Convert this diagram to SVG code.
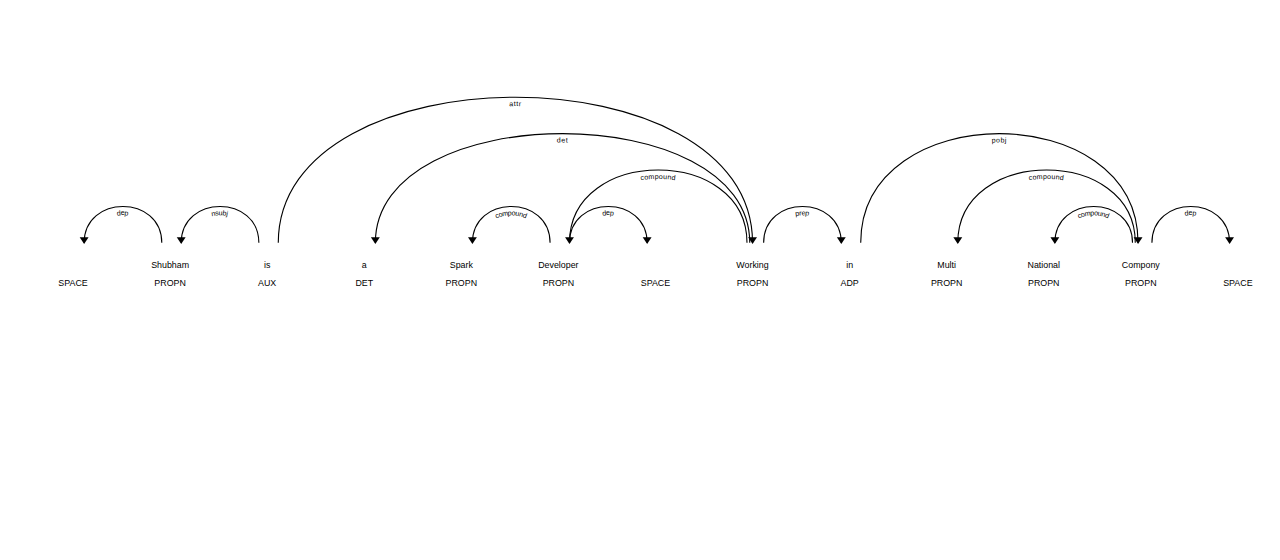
<svg xmlns="http://www.w3.org/2000/svg" xmlns:xlink="http://www.w3.org/1999/xlink" width="1280" height="560" viewBox="0 0 1280 560">
<style>
.d{color:#000;font-family:"Liberation Sans",Arial,sans-serif;font-size:16px}
.tok{fill:currentColor;text-anchor:middle}
.arc{fill:none;stroke:currentColor;stroke-width:2px}
.head{fill:currentColor}
.lbl{font-size:0.8em;letter-spacing:1px}
.lbl textPath{fill:currentColor;text-anchor:middle}
</style>
<rect width="1280" height="560" fill="#fff"/>
<g class="d" transform="translate(45.3,47.6) scale(0.5547)">
<g id="nodes">
<g id="w0"><text class="tok" y="397"><tspan x="50" dy="2em">SPACE</tspan></text></g>
<g id="w1"><text class="tok" y="397"><tspan x="225">Shubham</tspan><tspan x="225" dy="2em">PROPN</tspan></text></g>
<g id="w2"><text class="tok" y="397"><tspan x="400">is</tspan><tspan x="400" dy="2em">AUX</tspan></text></g>
<g id="w3"><text class="tok" y="397"><tspan x="575">a</tspan><tspan x="575" dy="2em">DET</tspan></text></g>
<g id="w4"><text class="tok" y="397"><tspan x="750">Spark</tspan><tspan x="750" dy="2em">PROPN</tspan></text></g>
<g id="w5"><text class="tok" y="397"><tspan x="925">Developer</tspan><tspan x="925" dy="2em">PROPN</tspan></text></g>
<g id="w6"><text class="tok" y="397"><tspan x="1100" dy="2em">SPACE</tspan></text></g>
<g id="w7"><text class="tok" y="397"><tspan x="1275">Working</tspan><tspan x="1275" dy="2em">PROPN</tspan></text></g>
<g id="w8"><text class="tok" y="397"><tspan x="1450">in</tspan><tspan x="1450" dy="2em">ADP</tspan></text></g>
<g id="w9"><text class="tok" y="397"><tspan x="1625">Multi</tspan><tspan x="1625" dy="2em">PROPN</tspan></text></g>
<g id="w10"><text class="tok" y="397"><tspan x="1800">National</tspan><tspan x="1800" dy="2em">PROPN</tspan></text></g>
<g id="w11"><text class="tok" y="397"><tspan x="1975">Compony</tspan><tspan x="1975" dy="2em">PROPN</tspan></text></g>
<g id="w12"><text class="tok" y="397"><tspan x="2150" dy="2em">SPACE</tspan></text></g>
</g>
<g id="connectors">
<g><path class="arc" id="a1" d="M70,352 C70,264.5 210,264.5 210,352"/><text class="lbl" dy="1.25em"><textPath xlink:href="#a1" startOffset="50%">dep</textPath></text><path class="head" d="M70,354 L62,342 78,342"/></g>
<g><path class="arc" id="a2" d="M245,352 C245,264.5 385,264.5 385,352"/><text class="lbl" dy="1.25em"><textPath xlink:href="#a2" startOffset="50%">nsubj</textPath></text><path class="head" d="M245,354 L237,342 253,342"/></g>
<g><path class="arc" id="a3" d="M420,352 C420,2 1275,2 1275,352"/><text class="lbl" dy="1.25em"><textPath xlink:href="#a3" startOffset="50%">attr</textPath></text><path class="head" d="M1275,354 L1267,342 1283,342"/></g>
<g><path class="arc" id="a4" d="M595,352 C595,89.5 1270,89.5 1270,352"/><text class="lbl" dy="1.25em"><textPath xlink:href="#a4" startOffset="50%">det</textPath></text><path class="head" d="M595,354 L587,342 603,342"/></g>
<g><path class="arc" id="a5" d="M770,352 C770,264.5 910,264.5 910,352"/><text class="lbl" dy="1.25em"><textPath xlink:href="#a5" startOffset="50%">compound</textPath></text><path class="head" d="M770,354 L762,342 778,342"/></g>
<g><path class="arc" id="a6" d="M945,352 C945,177 1265,177 1265,352"/><text class="lbl" dy="1.25em"><textPath xlink:href="#a6" startOffset="50%">compound</textPath></text><path class="head" d="M945,354 L937,342 953,342"/></g>
<g><path class="arc" id="a7" d="M945,352 C945,264.5 1085,264.5 1085,352"/><text class="lbl" dy="1.25em"><textPath xlink:href="#a7" startOffset="50%">dep</textPath></text><path class="head" d="M1085,354 L1077,342 1093,342"/></g>
<g><path class="arc" id="a8" d="M1295,352 C1295,264.5 1435,264.5 1435,352"/><text class="lbl" dy="1.25em"><textPath xlink:href="#a8" startOffset="50%">prep</textPath></text><path class="head" d="M1435,354 L1427,342 1443,342"/></g>
<g><path class="arc" id="a9" d="M1470,352 C1470,89.5 1970,89.5 1970,352"/><text class="lbl" dy="1.25em"><textPath xlink:href="#a9" startOffset="50%">pobj</textPath></text><path class="head" d="M1970,354 L1962,342 1978,342"/></g>
<g><path class="arc" id="a10" d="M1645,352 C1645,177 1965,177 1965,352"/><text class="lbl" dy="1.25em"><textPath xlink:href="#a10" startOffset="50%">compound</textPath></text><path class="head" d="M1645,354 L1637,342 1653,342"/></g>
<g><path class="arc" id="a11" d="M1820,352 C1820,264.5 1960,264.5 1960,352"/><text class="lbl" dy="1.25em"><textPath xlink:href="#a11" startOffset="50%">compound</textPath></text><path class="head" d="M1820,354 L1812,342 1828,342"/></g>
<g><path class="arc" id="a12" d="M1995,352 C1995,264.5 2135,264.5 2135,352"/><text class="lbl" dy="1.25em"><textPath xlink:href="#a12" startOffset="50%">dep</textPath></text><path class="head" d="M2135,354 L2127,342 2143,342"/></g>
</g>
</g>
</svg>
